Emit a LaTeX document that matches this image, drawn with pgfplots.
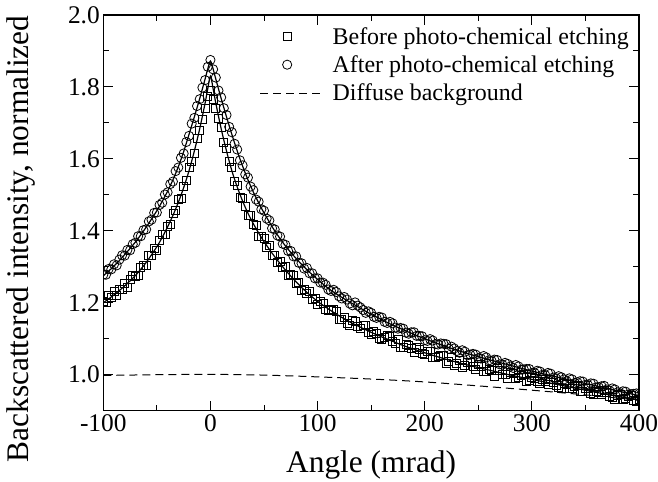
\documentclass[border=0pt]{standalone}
\usepackage{fontspec}
\setmainfont{Liberation Serif}
\usepackage{pgfplots}
\pgfplotsset{compat=1.18}
\pgfplotsset{
  markleg/.style={legend image code/.code={\path (0bp,0bp) (61bp,0bp); \draw[##1] plot coordinates {(27bp,0bp)};}},
  dashleg/.style={legend image code/.code={\draw[##1] (0bp,0bp) -- (61bp,0bp);}},
}
\begin{document}
\begin{tikzpicture}
\begin{axis}[
  scale only axis,
  width=535.7bp, height=395.7bp,
  xmin=-100, xmax=400, ymin=0.9, ymax=2.0,
  xtick={-100,0,100,200,300,400}, minor x tick num=1,
  ytick={1.0,1.2,1.4,1.6,1.8,2.0}, minor y tick num=1,
  tick align=inside, tick pos=both,
  xticklabel pos=lower, yticklabel pos=left,
  major tick length=10bp, minor tick length=6bp,
  every tick/.style={black, line width=1bp},
  axis line style={line width=1.2bp},
  clip marker paths=true,
  tick label style={font=\fontsize{25.5}{30}\selectfont},
  /pgf/number format/assume math mode=true,
  yticklabel style={/pgf/number format/fixed, /pgf/number format/fixed zerofill, /pgf/number format/precision=1},
  xlabel={Angle (mrad)}, ylabel={Backscattered intensity, normalized},
  label style={font=\fontsize{31.5}{36}\selectfont},
  xlabel style={at={(axis description cs:0.5,-0.137)}, anchor=center},
  ylabel style={at={(axis description cs:-0.1536,0.434)}, anchor=center},
  legend style={at={(axis description cs:1,1)}, anchor=north east, draw=none, fill=none,
    xshift=-3bp, yshift=-5bp,
    font=\fontsize{24}{28}\selectfont, row sep=0pt, column sep=6bp, inner sep=2bp, nodes={inner sep=5bp}},
  legend cell align=left,
]
% Before (squares)
\addplot[black, only marks, mark=square, mark size=4bp, mark options={fill=white, line width=0.8bp}, markleg]
table {
x y
-100 1.204
-97.5 1.200
-95 1.220
-92.5 1.214
-90 1.233
-87.5 1.220
-85 1.236
-82.5 1.236
-80 1.254
-77.5 1.244
-75 1.264
-72.5 1.277
-70 1.272
-67.5 1.276
-65 1.299
-62.5 1.304
-60 1.305
-57.5 1.333
-55 1.331
-52.5 1.350
-50 1.345
-47.5 1.373
-45 1.391
-42.5 1.391
-40 1.413
-37.5 1.419
-35 1.449
-32.5 1.458
-30 1.486
-27.5 1.491
-25 1.523
-22.5 1.539
-20 1.575
-17.5 1.593
-15 1.615
-12.5 1.658
-10 1.680
-7.5 1.710
-5 1.740
-2.5 1.775
0 1.790
2.5 1.765
5 1.740
7.5 1.712
10 1.687
12.5 1.647
15 1.630
17.5 1.593
20 1.577
22.5 1.538
25 1.526
27.5 1.494
30 1.489
32.5 1.467
35 1.444
37.5 1.444
40 1.417
42.5 1.414
45 1.384
47.5 1.384
50 1.378
52.5 1.355
55 1.359
57.5 1.332
60 1.331
62.5 1.311
65 1.314
67.5 1.298
70 1.300
72.5 1.276
75 1.278
77.5 1.276
80 1.253
82.5 1.257
85 1.234
87.5 1.238
90 1.225
92.5 1.231
95 1.210
97.5 1.213
100 1.196
102.5 1.204
105 1.199
107.5 1.181
110 1.178
112.5 1.179
115 1.181
117.5 1.176
120 1.154
122.5 1.155
125 1.159
127.5 1.142
130 1.138
132.5 1.150
135 1.148
137.5 1.135
140 1.130
142.5 1.137
145 1.136
147.5 1.117
150 1.113
152.5 1.121
155 1.116
157.5 1.102
160 1.097
162.5 1.105
165 1.108
167.5 1.106
170 1.092
172.5 1.087
175 1.099
177.5 1.075
180 1.075
182.5 1.085
185 1.082
187.5 1.072
190 1.061
192.5 1.077
195 1.070
197.5 1.058
200 1.056
202.5 1.064
205 1.066
207.5 1.047
210 1.049
212.5 1.052
215 1.054
217.5 1.054
220 1.032
222.5 1.037
225 1.047
227.5 1.027
230 1.031
232.5 1.039
235 1.019
237.5 1.027
240 1.034
242.5 1.033
245 1.022
247.5 1.016
250 1.030
252.5 1.023
255 1.009
257.5 1.008
260 1.016
262.5 1.013
265 0.996
267.5 1.017
270 1.012
272.5 1.000
275 1.000
277.5 0.991
280 1.007
282.5 1.004
285 0.990
287.5 0.993
290 0.997
292.5 1.000
295 0.981
297.5 0.983
300 0.992
302.5 0.991
305 0.982
307.5 0.976
310 0.988
312.5 0.982
315 0.972
317.5 0.986
320 0.978
322.5 0.970
325 0.964
327.5 0.961
330 0.975
332.5 0.974
335 0.963
337.5 0.963
340 0.968
342.5 0.970
345 0.955
347.5 0.953
350 0.961
352.5 0.961
355 0.948
357.5 0.946
360 0.954
362.5 0.952
365 0.945
367.5 0.956
370 0.952
372.5 0.940
375 0.938
377.5 0.932
380 0.943
382.5 0.945
385 0.932
387.5 0.934
390 0.939
392.5 0.942
395 0.929
397.5 0.925
400 0.932
};
\addlegendentry{Before photo-chemical etching}
% After (circles)
\addplot[black, only marks, mark=o, mark size=4.6bp, mark options={line width=0.8bp}, markleg]
table {
x y
-100 1.278
-97.5 1.278
-95 1.294
-92.5 1.293
-90 1.307
-87.5 1.304
-85 1.320
-82.5 1.332
-80 1.331
-77.5 1.347
-75 1.346
-72.5 1.363
-70 1.367
-67.5 1.385
-65 1.385
-62.5 1.402
-60 1.404
-57.5 1.426
-55 1.431
-52.5 1.450
-50 1.451
-47.5 1.472
-45 1.478
-42.5 1.501
-40 1.507
-37.5 1.530
-35 1.537
-32.5 1.566
-30 1.576
-27.5 1.603
-25 1.615
-22.5 1.647
-20 1.664
-17.5 1.698
-15 1.714
-12.5 1.747
-10 1.766
-7.5 1.798
-5 1.819
-2.5 1.856
0 1.875
2.5 1.849
5 1.826
7.5 1.790
10 1.771
12.5 1.741
15 1.722
17.5 1.689
20 1.674
22.5 1.642
25 1.626
27.5 1.596
30 1.582
32.5 1.557
35 1.548
37.5 1.523
40 1.513
42.5 1.487
45 1.481
47.5 1.460
50 1.456
52.5 1.434
55 1.429
57.5 1.407
60 1.404
62.5 1.387
65 1.384
67.5 1.364
70 1.361
72.5 1.344
75 1.344
77.5 1.329
80 1.329
82.5 1.311
85 1.310
87.5 1.295
90 1.297
92.5 1.282
95 1.282
97.5 1.268
100 1.268
102.5 1.256
105 1.256
107.5 1.250
110 1.237
112.5 1.233
115 1.236
117.5 1.230
120 1.218
122.5 1.212
125 1.216
127.5 1.209
130 1.198
132.5 1.193
135 1.201
137.5 1.192
140 1.187
142.5 1.180
145 1.172
147.5 1.176
150 1.172
152.5 1.161
155 1.158
157.5 1.161
160 1.159
162.5 1.147
165 1.144
167.5 1.147
170 1.143
172.5 1.131
175 1.128
177.5 1.130
180 1.128
182.5 1.117
185 1.114
187.5 1.118
190 1.118
192.5 1.108
195 1.108
197.5 1.107
200 1.096
202.5 1.094
205 1.099
207.5 1.095
210 1.085
212.5 1.084
215 1.087
217.5 1.086
220 1.085
222.5 1.072
225 1.078
227.5 1.073
230 1.066
232.5 1.061
235 1.068
237.5 1.064
240 1.054
242.5 1.056
245 1.058
247.5 1.056
250 1.046
252.5 1.045
255 1.052
257.5 1.048
260 1.040
262.5 1.038
265 1.042
267.5 1.041
270 1.029
272.5 1.028
275 1.033
277.5 1.030
280 1.023
282.5 1.019
285 1.027
287.5 1.023
290 1.014
292.5 1.015
295 1.016
297.5 1.016
300 1.005
302.5 1.005
305 1.011
307.5 1.009
310 1.000
312.5 0.999
315 1.005
317.5 1.003
320 0.992
322.5 0.990
325 0.996
327.5 0.993
330 0.987
332.5 0.982
335 0.990
337.5 0.987
340 0.977
342.5 0.979
345 0.982
347.5 0.981
350 0.972
352.5 0.971
355 0.976
357.5 0.975
360 0.965
362.5 0.965
365 0.968
367.5 0.969
370 0.959
372.5 0.956
375 0.962
377.5 0.959
380 0.951
382.5 0.948
385 0.954
387.5 0.953
390 0.945
392.5 0.946
395 0.947
397.5 0.948
400 0.940
};
\addlegendentry{After photo-chemical etching}
% Diffuse background
\addplot[black, line width=1bp, dash pattern=on 8bp off 5bp, smooth, dashleg]
table {
x y
-100 0.998
-50 1.000
0 1.001
50 0.999
100 0.994
150 0.988
200 0.980
250 0.969
300 0.957
350 0.944
400 0.929
};
\addlegendentry{Diffuse background}
% Fit lines
\addplot[black, line width=1.2bp, smooth, forget plot]
table {
x y
-100 1.200
-90 1.222
-80 1.247
-70 1.276
-60 1.312
-50 1.356
-45 1.382
-40 1.411
-35 1.443
-30 1.479
-25 1.520
-20 1.567
-15 1.622
-10 1.684
-5 1.755
-2.5 1.795
0 1.830
2.5 1.795
5 1.755
10 1.684
15 1.622
20 1.567
25 1.522
30 1.483
35 1.449
40 1.420
45 1.394
50 1.370
60 1.328
70 1.291
80 1.258
90 1.229
100 1.204
110 1.183
120 1.164
130 1.147
140 1.132
150 1.118
160 1.105
170 1.093
180 1.081
190 1.071
200 1.061
220 1.043
240 1.027
260 1.013
280 0.999
300 0.987
320 0.975
340 0.963
360 0.951
380 0.940
400 0.930
};
\addplot[black, line width=1.2bp, smooth, forget plot]
table {
x y
-100 1.275
-90 1.302
-80 1.334
-70 1.369
-60 1.410
-50 1.456
-45 1.482
-40 1.510
-35 1.542
-30 1.578
-25 1.620
-20 1.668
-15 1.717
-10 1.768
-5 1.822
-2.5 1.850
0 1.872
2.5 1.850
5 1.822
10 1.768
15 1.717
20 1.668
25 1.622
30 1.580
35 1.542
40 1.508
45 1.478
50 1.450
60 1.400
70 1.358
80 1.323
90 1.292
100 1.265
110 1.240
120 1.220
130 1.202
140 1.185
150 1.168
160 1.153
170 1.138
180 1.125
190 1.112
200 1.100
220 1.078
240 1.059
260 1.042
280 1.026
300 1.010
320 0.996
340 0.982
360 0.969
380 0.955
400 0.942
};
\end{axis}
\pgfresetboundingbox
\path[use as bounding box] (-103.3bp,-71.3bp) rectangle (554.7bp,410.7bp);
\end{tikzpicture}
\end{document}
